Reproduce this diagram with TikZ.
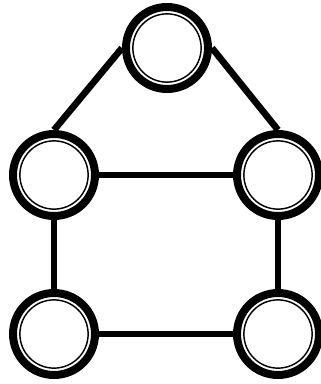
\documentclass[tikz,border=0pt]{standalone}
\usepackage{tikz}
\usetikzlibrary{positioning}

\begin{document}
\begin{tikzpicture}[
  x=0.75pt, y=-0.75pt,
  vertex/.style={circle, draw=black, fill=white, line width=6pt, minimum size=61.5pt, inner sep=0pt,
    path picture={\draw[line width=1.1pt] (path picture bounding box.center) circle (25.6pt);}},
  edge/.style={line width=5pt, black}
]
  \useasboundingbox (0,0) rectangle (320,384);

  \node[vertex] (top) at (167, 48) {};
  \node[vertex] (ml)  at (54, 175) {};
  \node[vertex] (mr)  at (278, 175) {};
  \node[vertex] (bl)  at (54, 334) {};
  \node[vertex] (br)  at (278, 334) {};

  \draw[edge] (top.west) -- (ml.north);
  \draw[edge] (top.east) -- (mr.north);
  \draw[edge] (ml) -- (mr);
  \draw[edge] (ml) -- (bl);
  \draw[edge] (mr) -- (br);
  \draw[edge] (bl) -- (br);
\end{tikzpicture}
\end{document}
